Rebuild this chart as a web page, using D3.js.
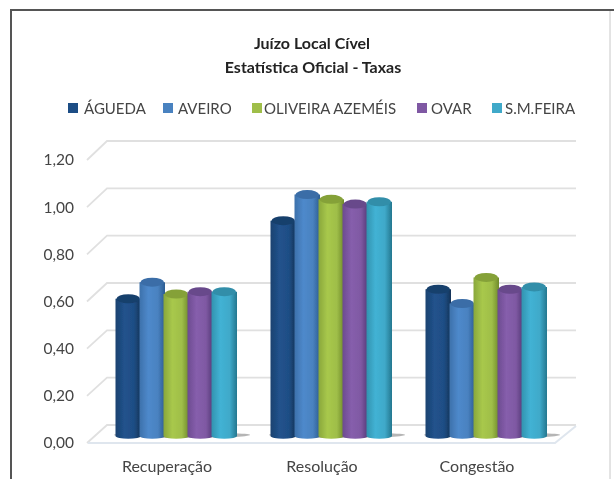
<!DOCTYPE html>
<html><head><meta charset="utf-8">
<script src="https://cdn.jsdelivr.net/npm/d3@7"></script>
<style>html,body{margin:0;padding:0;background:#fff}svg{display:block}text{font-family:Lato,"Open Sans",sans-serif}</style>
</head><body><div id="c"></div>
<script>
const categories = ["Recuperação","Resolução","Congestão"];
const seriesNames = ["ÁGUEDA","AVEIRO","OLIVEIRA AZEMÉIS","OVAR","S.M.FEIRA"];
const agueda = [0.58,0.91,0.62];
const aveiro = [0.65,1.02,0.56];
const oliveira = [0.60,1.00,0.67];
const ovar = [0.61,0.98,0.62];
const smfeira = [0.61,0.99,0.63];
const seriesValues = [agueda,aveiro,oliveira,ovar,smfeira];
const colors = ["#1f4e85","#4a82c0","#9fbe48","#7f59a3","#3fa9c9"];
const darks = ["#143357","#2c5c92","#6f8a2c","#553a78","#23778f"];
const ticks = [0,0.2,0.4,0.6,0.8,1.0,1.2];
const legendTextX = [84,178,264,431,505];
const legendSwatchX = [68,163,252,417,492];

const W=614,H=479;
const svg=d3.select("#c").append("svg").attr("width",W).attr("height",H);
const defs=svg.append("defs");
defs.append("filter").attr("id","blur").attr("x","-5%").attr("y","-5%").attr("width","110%").attr("height","110%")
  .append("feGaussianBlur").attr("stdDeviation",0.65);
colors.forEach((c,i)=>{
  const g=defs.append("linearGradient").attr("id","g"+i);
  g.append("stop").attr("offset","0%").attr("stop-color",d3.interpolateRgb(c,darks[i])(0.45));
  g.append("stop").attr("offset","35%").attr("stop-color",d3.color(c).brighter(0.15));
  g.append("stop").attr("offset","72%").attr("stop-color",c);
  g.append("stop").attr("offset","100%").attr("stop-color",darks[i]);
});
const root=svg.append("g").attr("filter","url(#blur)");

// frame
root.append("path").attr("d",`M11,${H+5} V10 H${W+5}`).attr("fill","none").attr("stroke","#555").attr("stroke-width",2);
root.append("path").attr("d",`M610,11 V${H+5}`).attr("fill","none").attr("stroke","#c8c8c8").attr("stroke-width",1);

// scales
const yFront=d3.scaleLinear().domain([0,1.2]).range([443,160]);
const yBack=d3.scaleLinear().domain([0,1.2]).range([425,141]);
const yBar=d3.scaleLinear().domain([0,1.2]).range([436,152]);
const x0=d3.scaleBand().domain(categories).range([98.5,563.5]).paddingInner(35/155).paddingOuter(35/310);
const x1=d3.scaleBand().domain(d3.range(5)).range([0,x0.bandwidth()]);

// grid
const grid=root.append("g").attr("fill","none").attr("stroke","#e0e0e0").attr("stroke-width",1.8);
ticks.forEach(t=>{
  grid.append("path").attr("d",`M87,${yFront(t)} L107,${yBack(t)} H576`);
});
root.append("path").attr("d",`M88,443 H555 L576,426`).attr("fill","none").attr("stroke","#dfe6ee").attr("stroke-width",2);

// axes
const yAxis=d3.axisLeft(yFront).tickValues(ticks).tickSize(0).tickPadding(0)
  .tickFormat(d=>d3.format(".2f")(d).replace(".",","));
const ya=root.append("g").attr("transform","translate(74,0)").call(yAxis);
ya.select(".domain").remove();
ya.selectAll("text").attr("font-size",15.5).attr("fill","#444");

const xAxis=d3.axisBottom(x0).tickSize(0).tickPadding(0);
const xa=root.append("g").attr("transform","translate(-9,462)").call(xAxis);
xa.select(".domain").remove();
xa.selectAll("text").attr("font-size",16).attr("fill","#444").attr("dy","0.6em");

// bars
const ry=4.5;
categories.forEach((cat,ci)=>{
  const g=root.append("g");
  const bx=x0(cat);
  g.append("ellipse").attr("cx",bx+x0.bandwidth()/2+6).attr("cy",yBar(0)-1).attr("rx",x0.bandwidth()/2+8).attr("ry",3).attr("fill","#b5b5b5");
  seriesValues.forEach((vals,si)=>{
    const xx=bx+x1(si)-0.5, w=x1.bandwidth()+1.5, v=vals[ci];
    const top=yBar(v), bot=yBar(0), r=w/2;
    g.append("path")
      .attr("d",`M${xx},${top} V${bot} A${r},${ry*0.6} 0 0 0 ${xx+w},${bot} V${top} Z`)
      .attr("fill",`url(#g${si})`);
    g.append("ellipse").attr("cx",xx+r).attr("cy",top).attr("rx",r-1).attr("ry",ry)
      .attr("fill",d3.interpolateRgb(colors[si],darks[si])(0.55));
  });
});

// title
const title=root.append("g").attr("text-anchor","middle").attr("font-weight",700).attr("font-size",16).attr("fill","#222");
title.append("text").attr("x",312).attr("y",49).text("Juízo Local Cível");
title.append("text").attr("x",313).attr("y",73).text("Estatística Oficial - Taxas");

// legend
seriesNames.forEach((n,i)=>{
  root.append("rect").attr("x",legendSwatchX[i]).attr("y",103).attr("width",10).attr("height",10).attr("fill",colors[i]);
  root.append("text").attr("x",legendTextX[i]).attr("y",113.5).attr("font-size",15).attr("fill","#444").text(n);
});
</script></body></html>
